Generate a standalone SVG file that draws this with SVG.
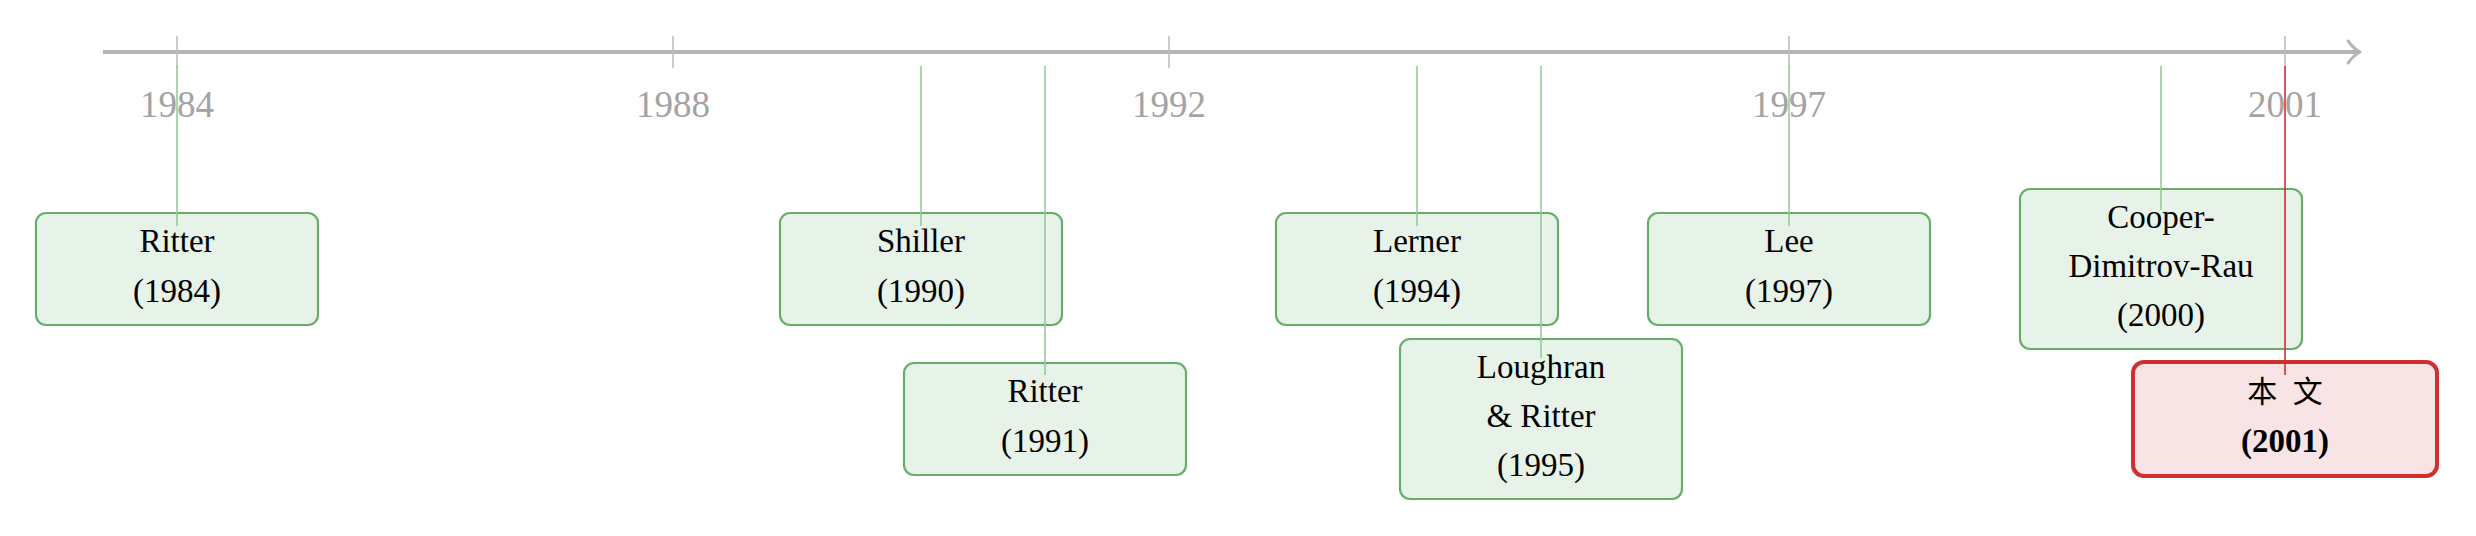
<svg xmlns="http://www.w3.org/2000/svg" width="2476" height="536" viewBox="0 0 2476 536">
<style>
.yr{font-family:"Liberation Serif",serif;font-size:37px;fill:#a3a3a3;text-anchor:middle}
.tk{stroke:#bdbdbd;stroke-width:1.6}
.bx{fill:#e7f2e8;stroke:#67ae6c;stroke-width:2.2}
.bxr{fill:#f8e4e4;stroke:#d12e2e;stroke-width:4}
.t{font-family:"Liberation Serif",serif;font-size:33px;fill:#000;text-anchor:middle}
.cj{font-family:"Liberation Serif","Noto Sans CJK SC",serif;font-size:30px;fill:#000;text-anchor:middle;word-spacing:8px}
.cg{stroke:#94cb9b;stroke-width:1.6;fill:none}
.cr{stroke:#d12e2e;stroke-width:1.6;fill:none}
</style>
<g id="axis">
<line x1="103" y1="52" x2="2358" y2="52" stroke="#b5b5b5" stroke-width="4"/>
<path d="M2348,41 Q2354,49 2360,52 Q2354,55 2348,63" fill="none" stroke="#b5b5b5" stroke-width="3" stroke-linecap="round" stroke-linejoin="round"/>
<line class="tk" x1="177" y1="36" x2="177" y2="68"/>
<line class="tk" x1="673" y1="36" x2="673" y2="68"/>
<line class="tk" x1="1169" y1="36" x2="1169" y2="68"/>
<line class="tk" x1="1789" y1="36" x2="1789" y2="68"/>
<line class="tk" x1="2285" y1="36" x2="2285" y2="68"/>
<text class="yr" x="177" y="117">1984</text>
<text class="yr" x="673" y="117">1988</text>
<text class="yr" x="1169" y="117">1992</text>
<text class="yr" x="1789" y="117">1997</text>
<text class="yr" x="2285" y="117">2001</text>
</g>
<g id="n1984"><rect class="bx" x="36" y="213" width="282" height="112" rx="10"/><text class="t" x="177" y="252">Ritter</text><text class="t" x="177" y="302">(1984)</text></g>
<g id="n1990"><rect class="bx" x="780" y="213" width="282" height="112" rx="10"/><text class="t" x="921" y="252">Shiller</text><text class="t" x="921" y="302">(1990)</text></g>
<g id="n1991"><rect class="bx" x="904" y="363" width="282" height="112" rx="10"/><text class="t" x="1045" y="402">Ritter</text><text class="t" x="1045" y="452">(1991)</text></g>
<g id="n1994"><rect class="bx" x="1276" y="213" width="282" height="112" rx="10"/><text class="t" x="1417" y="252">Lerner</text><text class="t" x="1417" y="302">(1994)</text></g>
<g id="n1995"><rect class="bx" x="1400" y="339" width="282" height="160" rx="10"/><text class="t" x="1541" y="378">Loughran</text><text class="t" x="1541" y="427">&amp; Ritter</text><text class="t" x="1541" y="476">(1995)</text></g>
<g id="n1997"><rect class="bx" x="1648" y="213" width="282" height="112" rx="10"/><text class="t" x="1789" y="252">Lee</text><text class="t" x="1789" y="302">(1997)</text></g>
<g id="n2000"><rect class="bx" x="2020" y="189" width="282" height="160" rx="10"/><text class="t" x="2161" y="228">Cooper-</text><text class="t" x="2161" y="277">Dimitrov-Rau</text><text class="t" x="2161" y="326">(2000)</text></g>
<g id="n2001"><rect class="bxr" x="2133" y="362" width="304" height="114" rx="11"/><text class="cj" x="2285" y="402">本 文</text><text class="t" x="2285" y="452" font-weight="bold">(2001)</text></g>
<g id="connectors">
<line class="cg" x1="177" y1="66" x2="177" y2="226"/>
<line class="cg" x1="921" y1="66" x2="921" y2="226"/>
<line class="cg" x1="1045" y1="66" x2="1045" y2="375"/>
<line class="cg" x1="1417" y1="66" x2="1417" y2="226"/>
<line class="cg" x1="1541" y1="66" x2="1541" y2="358"/>
<line class="cg" x1="1789" y1="66" x2="1789" y2="226"/>
<line class="cg" x1="2161" y1="66" x2="2161" y2="210"/>
<line class="cr" x1="2285" y1="66" x2="2285" y2="375"/>
</g>
</svg>
